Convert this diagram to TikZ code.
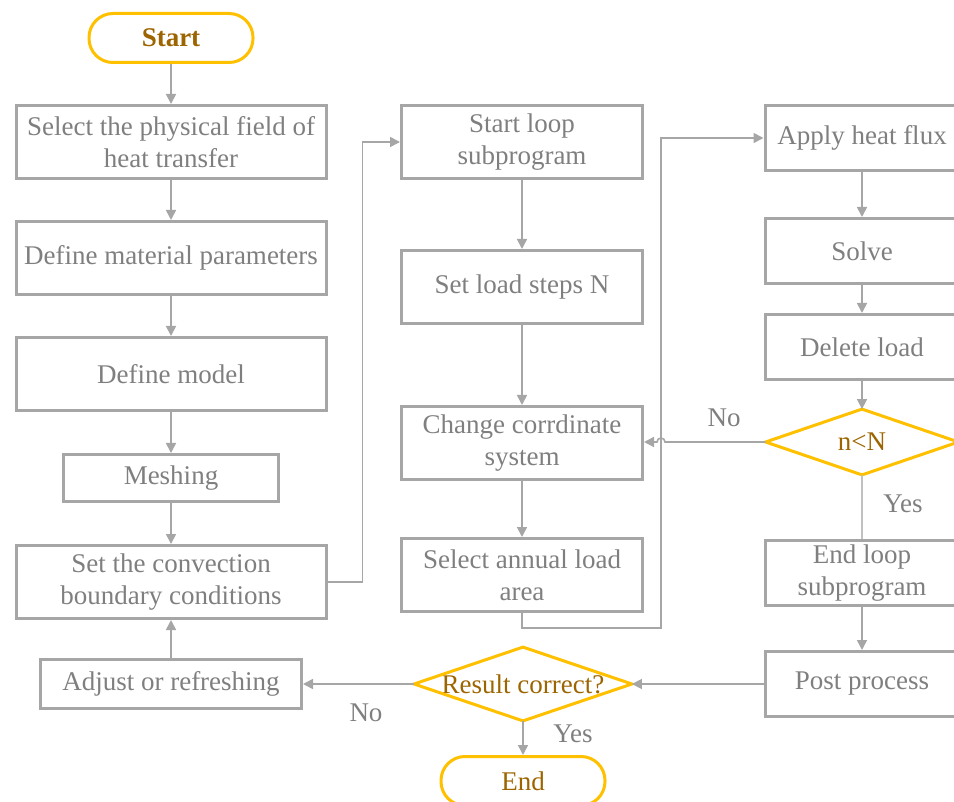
\documentclass[tikz,border=0pt]{standalone}
\usepackage{fontspec}
\setmainfont{Liberation Serif}
\usetikzlibrary{arrows.meta,calc}
\definecolor{lgray}{HTML}{A6A6A6}
\definecolor{tgray}{HTML}{7F7F7F}
\definecolor{gold}{HTML}{FFC000}
\definecolor{dgold}{HTML}{9C6500}
\begin{document}
\begin{tikzpicture}[x=0.5pt,y=-0.5pt,
  every node/.style={font=\fontsize{13.5}{16}\selectfont, align=center, inner sep=0pt},
  box/.style={draw=lgray, line width=1.5pt, text=tgray},
  wide/.style={box, minimum width=155pt, minimum height=36.5pt},
  midbox/.style={box, minimum width=120.5pt, minimum height=36.5pt},
  rbox/.style={box, minimum width=97pt, minimum height=32.5pt},
  term/.style={draw=gold, line width=1.5pt, rounded corners=12pt, minimum width=82pt, minimum height=24.5pt, text=dgold},
  dia/.style={text=dgold},
  dline/.style={draw=gold, line width=1.5pt},
  conn/.style={draw=lgray, line width=0.8pt, -{Triangle[length=5pt,width=5pt]}},
  plain/.style={draw=lgray, line width=0.8pt},
  lbl/.style={text=tgray}]
\useasboundingbox (0,0) rectangle (954,802);
\clip (0,0) rectangle (954,802);
% left column
\node[term, font=\fontsize{13.5}{16}\selectfont\bfseries] (start) at (171,38) {Start};
\node[wide] (b1) at (171,142) {Select the physical field of\\heat transfer};
\node[wide] (b2) at (171,258) {Define material parameters};
\node[wide] (b3) at (171,374) {Define model};
\node[box, minimum width=107.5pt, minimum height=23.5pt] (b4) at (171,478) {Meshing};
\node[wide] (b5) at (171,582) {Set the convection\\boundary conditions};
\node[box, minimum width=130.5pt, minimum height=24.5pt] (b6) at (171,684) {Adjust or refreshing};
% middle column
\node[midbox] (m1) at (522,142) {Start loop\\subprogram};
\node[midbox] (m2) at (522,287) {Set load steps N};
\node[midbox] (m3) at (522,443) {Change corrdinate\\system};
\node[midbox] (m4) at (522,575) {Select annual load\\area};
\node[dia, minimum width=108.5pt, minimum height=36.5pt] (rc) at (523,684) {Result correct?};
\node[term] (end) at (523,781) {End};
% right column
\node[rbox] (r1) at (862,138) {Apply heat flux};
\node[rbox] (r2) at (862,251) {Solve};
\node[rbox] (r3) at (862,347) {Delete load};
\node[dia, minimum width=96pt, minimum height=32.5pt] (nn) at (862,442) {n<N};
\node[rbox] (r4) at (862,573) {End loop\\subprogram};
\node[rbox] (r5) at (862,684) {Post process};
% diamonds
\draw[dline] (rc.west) -- (rc.north) -- (rc.east) -- (rc.south) -- cycle;
\draw[dline] (nn.west) -- (nn.north) -- (nn.east) -- (nn.south) -- cycle;
% connectors left
\draw[conn] (start) -- (b1);
\draw[conn] (b1) -- (b2);
\draw[conn] (b2) -- (b3);
\draw[conn] (b3) -- (b4);
\draw[conn] (b4) -- (b5);
\draw[conn] (b6) -- (b5);
\draw[conn] (b5.east) -- ++(35,0) |- (m1.west);
% middle
\draw[conn] (m1) -- (m2);
\draw[conn] (m2) -- (m3);
\draw[conn] (m3) -- (m4);
\coordinate (j) at (661,628);
\draw[conn] (m4.south) |- (j) |- (r1.west);
% right
\draw[conn] (r1) -- (r2);
\draw[conn] (r2) -- (r3);
\draw[conn] (r3.south) -- (nn.north);
\draw[draw=lgray!70, line width=0.6pt] (nn.south) -- (r4.north);
\draw[conn] (r4) -- (r5);
\coordinate (hopR) at (665,442);
\draw[conn] (nn.west) -- (hopR) arc[start angle=0, end angle=-180, radius=4] -- (m3.east |- hopR);
\draw[conn] (r5.west) -- (rc.east);
\draw[conn] (rc.west) -- (b6.east);
\draw[conn] (rc.south) -- (end.north);
% labels
\node[lbl] (l1) at (724,418) {No};
\node[lbl] (l2) at (903,504) {Yes};
\node[lbl] (l3) at (366,713) {No};
\node[lbl] (l4) at (573,734) {Yes};
\end{tikzpicture}
\end{document}
